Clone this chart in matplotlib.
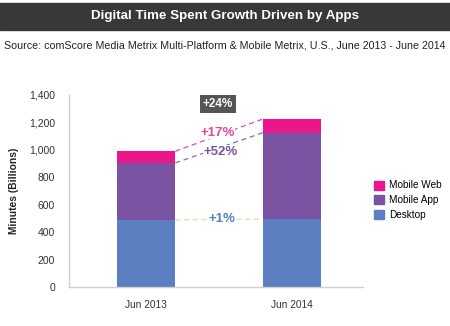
import matplotlib
matplotlib.use("Agg")
import matplotlib.pyplot as plt
from matplotlib.patches import Rectangle, Patch

plt.rcParams['font.family'] = ['Liberation Sans', 'DejaVu Sans']

periods = ['Jun 2013', 'Jun 2014']
desktop = [490, 495]
mobile_app = [415, 630]
mobile_web = [85, 100]
series_names = ['Mobile Web', 'Mobile App', 'Desktop']
growth = {'total': '+24%', 'web': '+17%', 'app': '+52%', 'desktop': '+1%'}
yticks = [0, 200, 400, 600, 800, 1000, 1200, 1400]

c_desk = '#5b7fc1'
c_app = '#7b53a3'
c_web = '#ec168c'
c_text = '#333333'


def fit_width(txt, width_px):
    # shrink a figure text until it spans the wanted number of pixels
    r = fig.canvas.get_renderer()
    w = txt.get_window_extent(renderer=r).width
    txt.set_fontsize(txt.get_fontsize() * width_px / w)


fig = plt.figure(figsize=(4.5, 3.26), dpi=100)

# header band
fig.patches.append(Rectangle((0, 1 - 30 / 326), 1, 27 / 326, transform=fig.transFigure,
                             color='#383838', zorder=0))
title = fig.text(0.5, 1 - 16.5 / 326, 'Digital Time Spent Growth Driven by Apps', color='white',
                 ha='center', va='center', fontsize=10, fontweight='bold')
sub = fig.text(0.5, 1 - 46 / 326,
               'Source: comScore Media Metrix Multi-Platform & Mobile Metrix, U.S., June 2013 - June 2014',
               ha='center', va='center', fontsize=8, color='#222222')
fit_width(title, 268)
fit_width(sub, 438)

ax = fig.add_axes([69 / 450, 1 - 287 / 326, 294 / 450, 192 / 326])
x = [0, 1]
w = 0.4
app_base = desktop
web_base = [d + a for d, a in zip(desktop, mobile_app)]
totals = [b + m for b, m in zip(web_base, mobile_web)]

ax.bar(x, desktop, w, color=c_desk, zorder=2)
ax.bar(x, mobile_app, w, bottom=app_base, color=c_app, zorder=2)
ax.bar(x, mobile_web, w, bottom=web_base, color=c_web, zorder=2)

# growth connectors between bar edges
ax.plot([w / 2, 1 - w / 2], totals, ls=(0, (4, 3)), color='#e8489a', lw=0.9, zorder=1)
ax.plot([w / 2, 1 - w / 2], web_base, ls=(0, (4, 3)), color='#8a69b5', lw=0.9, zorder=1)
ax.plot([w / 2, 1 - w / 2], desktop, ls=(0, (4, 3)), color='#d8e2a6', lw=0.9, zorder=1)

ax.text(0.49, 1335, growth['total'], ha='center', va='center', color='white',
        fontsize=8.5, fontweight='bold',
        bbox=dict(boxstyle='square,pad=0.25', fc='#555555', ec='none'))
ax.text(0.49, 1123, growth['web'], ha='center', va='center', color='#e8489a',
        fontsize=9.5, fontweight='bold',
        bbox=dict(boxstyle='square,pad=0.02', fc='white', ec='none'))
ax.text(0.51, 987, growth['app'], ha='center', va='center', color='#7b53a3',
        fontsize=9.5, fontweight='bold',
        bbox=dict(boxstyle='square,pad=0.02', fc='white', ec='none'))
ax.text(0.52, 497, growth['desktop'], ha='center', va='center', color='#5b7fc1',
        fontsize=9.5, fontweight='bold',
        bbox=dict(boxstyle='square,pad=0.15', fc='white', ec='none'))

ax.set_xlim(-0.528, 1.486)
ax.set_ylim(0, 1400)
ax.set_yticks(yticks)
ax.set_yticklabels([f'{v:,}' for v in yticks], fontsize=7.5, color=c_text)
ax.set_xticks(x)
ax.set_xticklabels(periods, fontsize=7.3, color=c_text)
ax.tick_params(length=0, pad=10)
ax.tick_params(axis='x', pad=9)
for s in ['top', 'right']:
    ax.spines[s].set_visible(False)
for s in ['left', 'bottom']:
    ax.spines[s].set_color('#d0d0d0')
    ax.spines[s].set_linewidth(1)
ax.set_ylabel('Minutes (Billions)', fontsize=7.4, fontweight='bold', color='#222222', labelpad=7)

handles = [Patch(color=c_web), Patch(color=c_app), Patch(color=c_desk)]
fig.legend(handles, series_names, loc='center left', bbox_to_anchor=(374 / 450, 1 - 200 / 326),
           frameon=False, fontsize=7.2, handlelength=1.0, handleheight=1.0,
           handletextpad=0.5, labelspacing=0.45, borderpad=0, borderaxespad=0)

fig.savefig('out.png', dpi=100)
